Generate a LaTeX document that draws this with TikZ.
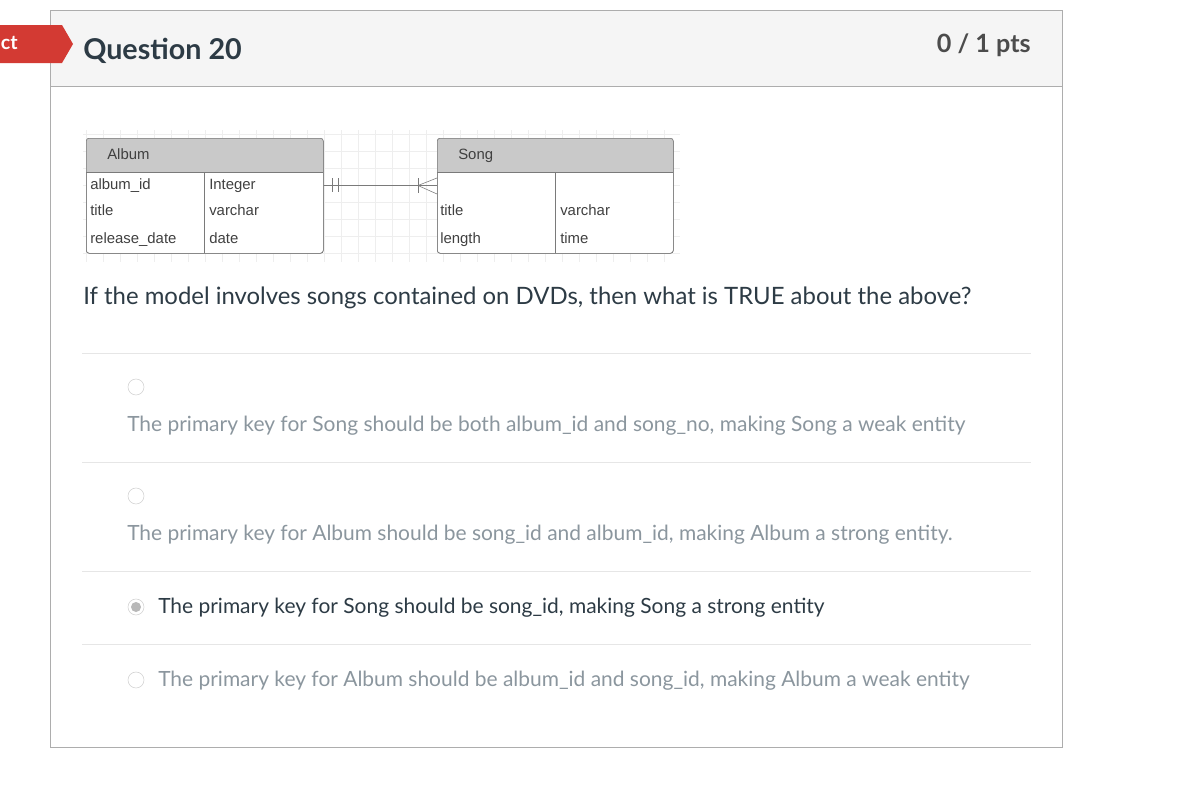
\documentclass[tikz,border=0pt]{standalone}
\usepackage{fontspec}
\setmainfont{Lato}
\newfontfamily\erfont{Liberation Sans}
\usetikzlibrary{positioning}
\definecolor{qtext}{HTML}{2D3B45}
\definecolor{atext}{HTML}{8B969E}
\definecolor{frame}{HTML}{ADADAD}
\definecolor{headbg}{HTML}{F5F5F5}
\definecolor{sepline}{HTML}{E6E6E6}
\definecolor{tagred}{HTML}{D33A33}
\definecolor{erhead}{HTML}{C9C9C9}
\definecolor{erline}{HTML}{7A7A7A}
\definecolor{ergrid}{HTML}{EEEEEE}
\newcommand\pxu{0.025cm}
\begin{document}
\begin{tikzpicture}[x=0.025cm,y=-0.025cm,
  txt/.style={anchor=west,inner sep=0pt},
  ertxt/.style={anchor=base west,inner sep=0pt,font=\erfont\fontsize{10.6}{12}\selectfont,text=black!75},
  answer/.style={anchor=west,inner sep=0pt,font=\fontsize{14.9}{18}\selectfont,text=atext},
  radio/.style={circle,draw=black!18,fill=white,minimum size=16*\pxu,inner sep=0pt},
  erbox/.style={draw=erline,rounded corners=2pt,anchor=north west,inner sep=0pt}]
\useasboundingbox (0,0) rectangle (1194,802);
\fill[white] (0,0) rectangle (1194,802);

\fill[headbg] (50,10) rectangle (1062,86);
\draw[frame] (50,86) -- (1062,86);
\draw[frame] (50,10) rectangle (1062,747);

\fill[tagred] (0,25) -- (62,25) -- (73,44) -- (62,63) -- (0,63) -- cycle;
\node[anchor=east,inner sep=0pt,text=white,font=\bfseries\fontsize{14}{16}\selectfont] (tag) at (18,43) {ct};
\node[txt,text=qtext,font=\bfseries\fontsize{20.4}{24}\selectfont] (title) at (83,51) {Question 20};
\node[anchor=east,inner sep=0pt,text=black!70,font=\bfseries\fontsize{17.9}{21}\selectfont] (pts) at (1031,45) {0 / 1 pts};

\foreach \gx in {86,103,...,680} \draw[ergrid] (\gx,130) -- (\gx,262);
\foreach \gy in {134,151,...,262} \draw[ergrid] (83,\gy) -- (680,\gy);

\node[erbox,fill=white,minimum width=237*\pxu,minimum height=115*\pxu] (album) at (86,138) {};
\begin{scope}
\clip[rounded corners=2pt] (album.north west) rectangle (album.south east);
\fill[erhead] (album.north west) rectangle (323,172);
\end{scope}
\node[erbox,minimum width=237*\pxu,minimum height=115*\pxu] at (86,138) {};
\draw[erline] (86,172) -- (323,172);
\draw[erline] (204,172) -- (204,253);

\node[erbox,fill=white,minimum width=236*\pxu,minimum height=115*\pxu] (song) at (437,138) {};
\begin{scope}
\clip[rounded corners=2pt] (song.north west) rectangle (song.south east);
\fill[erhead] (song.north west) rectangle (673,172);
\end{scope}
\node[erbox,minimum width=236*\pxu,minimum height=115*\pxu] at (437,138) {};
\draw[erline] (437,172) -- (673,172);
\draw[erline] (555,172) -- (555,253);

\node[ertxt] (albumname) at (107,159) {Album};
\node[ertxt] (a1) at (90,189) {album\_id};
\node[ertxt] (a2) at (90,215) {title};
\node[ertxt] (a3) at (90,243) {release\_date};
\node[ertxt] (t1) at (209,189) {Integer};
\node[ertxt] (t2) at (209,215) {varchar};
\node[ertxt] (t3) at (209,243) {date};
\node[ertxt] (songname) at (458,159) {Song};
\node[ertxt] (s2) at (440,215) {title};
\node[ertxt] (s3) at (440,243) {length};
\node[ertxt] (u2) at (560,215) {varchar};
\node[ertxt] (u3) at (560,243) {time};

\coordinate (linkA) at (album.east |- 0,185);
\coordinate (linkS) at (song.west |- 0,185);
\draw[erline] (linkA) -- (linkS);
\draw[erline] (332,178) -- (332,192);
\draw[erline] (338,178) -- (338,192);
\draw[erline] (418,178) -- (418,193);
\draw[erline] (437,178) -- (418,185.5) -- (437,194);

\node[txt,text=qtext,font=\fontsize{17}{20}\selectfont] (question) at (83,298) {If the model involves songs contained on DVDs, then what is TRUE about the above?};

\foreach \y in {353,462,571,644} \draw[sepline] (82,\y) -- (1031,\y);

\node[radio] (r1) at (136,387) {};
\node[answer] (ans1) at (127,426) {The primary key for Song should be both album\_id and song\_no, making Song a weak entity};
\node[radio] (r2) at (136,496) {};
\node[answer] (ans2) at (127,535) {The primary key for Album should be song\_id and album\_id, making Album a strong entity.};
\node[radio] (r3) at (136,607) {};
\fill[black!28] (r3.center) circle (5);
\node[answer,text=qtext] (ans3) at (158,608) {The primary key for Song should be song\_id, making Song a strong entity};
\node[radio] (r4) at (136,680) {};
\node[answer] (ans4) at (158,681) {The primary key for Album should be album\_id and song\_id, making Album a weak entity};
\end{tikzpicture}
\end{document}
